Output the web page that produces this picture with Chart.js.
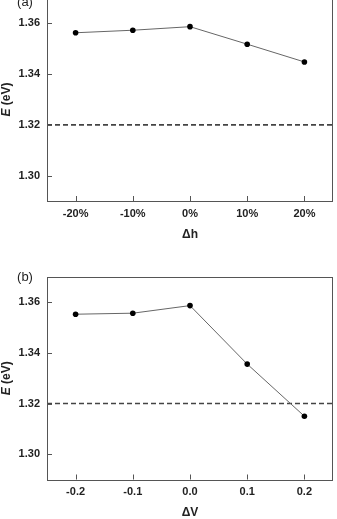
<!DOCTYPE html>
<html>
<head>
<meta charset="utf-8">
<script src="https://cdn.jsdelivr.net/npm/chart.js@4.4.0/dist/chart.umd.min.js"></script>
<style>
body { margin: 0; width: 337px; height: 519px; overflow: hidden; background: #fff; position: relative; }
canvas { position: absolute; left: 0; }
#chartA { top: -20px; }
#chartB { top: 262px; }
</style>
</head>
<body>
<canvas id="chartA" width="337" height="268"></canvas>
<canvas id="chartB" width="337" height="264"></canvas>
<script>
// panneau (a) : variation de h
const hSteps = [-20, -10, 0, 10, 20];
const energyH = [1.3563, 1.3573, 1.3587, 1.3518, 1.3448];
// panneau (b) : variation de V
const vSteps = [-0.2, -0.1, 0.0, 0.1, 0.2];
const energyV = [1.3553, 1.3557, 1.3587, 1.3356, 1.3150];
// ligne de référence (pointillés)
const refEnergy = 1.32;
const yTicks = [1.30, 1.32, 1.34, 1.36];

const axisColor = "#555";
const textColor = "#222";

// cadre, petits ticks vers l'intérieur, label (a)/(b) et titre E (eV)
const cadre = {
  id: "cadre",
  afterDraw(chart, args, opts) {
    const ctx = chart.ctx;
    const a = chart.chartArea;
    const xs = chart.scales.x;
    const ys = chart.scales.y;
    ctx.save();
    ctx.strokeStyle = axisColor;
    ctx.lineWidth = 1;
    ctx.strokeRect(Math.round(a.left) + 0.5, Math.round(a.top) + 0.5, Math.round(a.right - a.left) - 1, Math.round(a.bottom - a.top));
    ctx.beginPath();
    xs.ticks.forEach((t) => {
      let px = Math.round(xs.getPixelForValue(t.value)) + 0.5;
      ctx.moveTo(px, a.bottom);
      ctx.lineTo(px, a.bottom - 5);
    });
    ys.ticks.forEach((t) => {
      let py = Math.round(ys.getPixelForValue(t.value)) + 0.5;
      ctx.moveTo(a.left, py);
      ctx.lineTo(a.left + 5, py);
    });
    ctx.stroke();
    // label du panneau
    ctx.fillStyle = textColor;
    ctx.font = "13px 'Liberation Sans'";
    ctx.textAlign = "center";
    ctx.textBaseline = "middle";
    ctx.fillText(opts.label, 25, a.top + opts.dy);
    // titre vertical E (eV) avec E en italique
    ctx.translate(7, (a.top + a.bottom) / 2);
    ctx.rotate(-Math.PI / 2);
    ctx.font = "italic bold 12px 'Liberation Sans'";
    let w1 = ctx.measureText("E").width;
    ctx.font = "bold 12px 'Liberation Sans'";
    let w2 = ctx.measureText(" (eV)").width;
    ctx.textAlign = "left";
    ctx.font = "italic bold 12px 'Liberation Sans'";
    ctx.fillText("E", -(w1 + w2) / 2, 0);
    ctx.font = "bold 12px 'Liberation Sans'";
    ctx.fillText(" (eV)", -(w1 + w2) / 2 + w1, 0);
    ctx.restore();
  },
};

function makeChart(id, xs, ys, xMin, xMax, fmt, xTitle, label, labelDy, padTop, xHeight) {
  return new Chart(document.getElementById(id), {
    type: "line",
    data: {
      datasets: [
        {
          data: xs.map((v, i) => ({ x: v, y: ys[i] })),
          borderColor: "#666",
          borderWidth: 1,
          pointRadius: 2.8,
          pointBackgroundColor: "#000",
          pointBorderWidth: 0,
          tension: 0,
        },
        {
          data: [{ x: xMin, y: refEnergy }, { x: xMax, y: refEnergy }],
          borderColor: "#444",
          borderWidth: 1.6,
          borderDash: [5, 3],
          pointRadius: 0,
        },
      ],
    },
    options: {
      responsive: false,
      devicePixelRatio: 1,
      animation: false,
      layout: { padding: { top: padTop, right: 1, left: 0, bottom: 0 } },
      plugins: { legend: { display: false }, tooltip: { enabled: false }, cadre: { label: label, dy: labelDy } },
      scales: {
        x: {
          type: "linear",
          min: xMin,
          max: xMax,
          afterBuildTicks: (s) => { s.ticks = xs.map((v) => ({ value: v })); },
          afterFit: (s) => { s.height = xHeight; },
          grid: { display: false, drawTicks: false },
          border: { display: false },
          ticks: {
            padding: 6,
            color: textColor,
            font: { family: "'Liberation Sans'", size: 11, weight: "bold" },
            callback: fmt,
          },
          title: {
            display: true,
            text: xTitle,
            color: textColor,
            font: { family: "'Liberation Sans'", size: 12, weight: "bold" },
            padding: { top: 0, bottom: 6 },
          },
        },
        y: {
          min: 1.29,
          max: 1.37,
          afterBuildTicks: (s) => { s.ticks = yTicks.map((v) => ({ value: v })); },
          afterFit: (s) => { s.width = 47; },
          grid: { display: false, drawTicks: false },
          border: { display: false },
          ticks: {
            padding: 7,
            color: textColor,
            font: { family: "'Liberation Sans'", size: 11, weight: "bold" },
            callback: (v) => v.toFixed(2),
          },
        },
      },
    },
    plugins: [cadre],
  });
}

const chartA = makeChart("chartA", hSteps, energyH, -25, 25, (v) => v + "%", "\u0394h", "(a)", 4, 18, 47);
const chartB = makeChart("chartB", vSteps, energyV, -0.25, 0.25, (v) => v.toFixed(1), "\u0394V", "(b)", 0, 15, 46.5);
</script>
</body>
</html>
